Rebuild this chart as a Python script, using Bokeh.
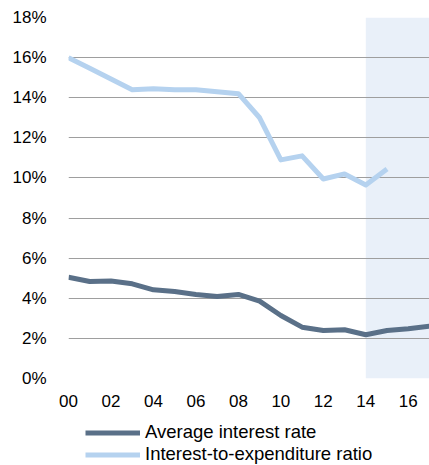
from bokeh.plotting import figure
from bokeh.layouts import column
from bokeh.models import Range1d, BoxAnnotation, Legend, LegendItem, FixedTicker, ColumnDataSource
from bokeh.embed import file_html
from bokeh.resources import INLINE

years = list(range(0, 18))
avg_rate = [5.05, 4.84, 4.86, 4.72, 4.42, 4.34, 4.19, 4.09, 4.19, 3.86,
            3.14, 2.56, 2.39, 2.43, 2.18, 2.39, 2.48, 2.61]
ratio_years = list(range(0, 16))
ratio = [16.0, 15.47, 14.93, 14.4, 14.45, 14.4, 14.4, 14.3, 14.2, 13.0,
         10.9, 11.1, 9.95, 10.2, 9.65, 10.45]
x_ticks = list(range(0, 17, 2))
x_labels = ["00", "02", "04", "06", "08", "10", "12", "14", "16"]
y_ticks = list(range(0, 19, 2))
y_labels = [f"{v}%" for v in y_ticks]
series_names = ["Average interest rate", "Interest-to-expenditure ratio"]
series_colors = ["#5A7088", "#B5D2EF"]
forecast_start = 14
x_max = 17

FONT = "Liberation Sans"

p = figure(width=429, height=414, output_backend="svg", toolbar_location=None,
           x_range=Range1d(0, x_max), y_range=Range1d(0, 18),
           min_border_left=68, min_border_right=0, min_border_top=17, min_border_bottom=36)
p.outline_line_color = None
p.background_fill_color = "white"
p.border_fill_color = "white"

box = BoxAnnotation(left=forecast_start, right=x_max, fill_color="#E9F0F9", fill_alpha=1.0,
                    line_color=None, level="image")
p.add_layout(box)

p.xgrid.grid_line_color = None
p.ygrid.grid_line_color = "#9E9E9E"
p.ygrid.grid_line_width = 1
p.ygrid.ticker = FixedTicker(ticks=y_ticks)

src_a = ColumnDataSource(dict(x=years, y=avg_rate))
src_r = ColumnDataSource(dict(x=ratio_years, y=ratio))
sources = [src_a, src_r]
for src, col in zip(sources, series_colors):
    p.line("x", "y", source=src, line_color=col, line_width=5, line_join="round")

p.xaxis.ticker = FixedTicker(ticks=x_ticks)
p.xaxis.major_label_overrides = {t: l for t, l in zip(x_ticks, x_labels)}
p.yaxis.ticker = FixedTicker(ticks=y_ticks)
p.yaxis.major_label_overrides = {t: l for t, l in zip(y_ticks, y_labels)}
for ax in (p.xaxis[0], p.yaxis[0]):
    ax.axis_line_color = None
    ax.major_tick_line_color = None
    ax.minor_tick_line_color = None
    ax.major_label_text_font = FONT
    ax.major_label_text_font_size = "17px"
    ax.major_label_text_color = "#000000"
p.yaxis.major_label_standoff = 16
p.xaxis.major_label_standoff = 10

# Legend strip below the chart (its range keeps the series lines out of view)
lg = figure(width=429, height=51, output_backend="svg", toolbar_location=None,
            x_range=Range1d(0, x_max), y_range=Range1d(-2, -1), min_border=0)
lg.axis.visible = False
lg.grid.visible = False
lg.outline_line_color = None
items = []
for name, src, col in zip(series_names, sources, series_colors):
    r = lg.line("x", "y", source=src, line_color=col, line_width=5)
    items.append(LegendItem(label=name, renderers=[r]))
legend = Legend(items=items, location=(17, 0), orientation="vertical",
                label_text_font=FONT, label_text_font_size="18.5px", label_text_color="#000000",
                glyph_width=55, glyph_height=21, label_height=21, spacing=0,
                padding=0, margin=0, label_standoff=5,
                border_line_color=None, background_fill_alpha=0)
lg.add_layout(legend, "center")

layout = column(p, lg, spacing=0)
open("out.html", "w").write(file_html(layout, INLINE))
